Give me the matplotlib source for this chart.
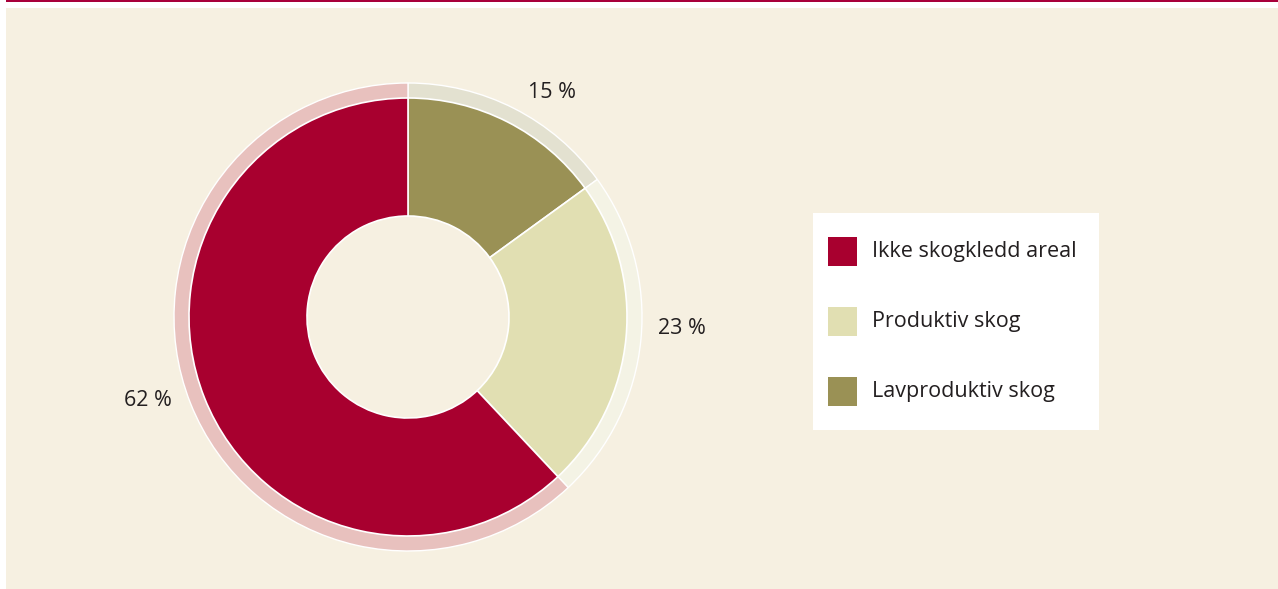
import matplotlib.pyplot as plt
from matplotlib.patches import Rectangle

# data (clockwise from 12 o'clock)
kategorier = ['Lavproduktiv skog', 'Produktiv skog', 'Ikke skogkledd areal']
andel = [15, 23, 62]
farger = ['#9a9155', '#e1dfb2', '#a8002f']
ring_farger = ['#e3e1d0', '#f4f3e5', '#e8c1be']
etiketter = ['15 %', '23 %', '62 %']
etikett_pos = [(552, 92), (682, 329), (148, 400)]  # pixel positions of labels

legend_rekkefolge = ['Ikke skogkledd areal', 'Produktiv skog', 'Lavproduktiv skog']

W, H = 1278, 589
fig = plt.figure(figsize=(W / 100, H / 100), dpi=100)
fig.patch.set_facecolor('white')
ax = fig.add_axes([0, 0, 1, 1])

def py(y):
    # pixel row -> data y
    return H - y

# panel + top line
ax.add_patch(Rectangle((6, 0), W - 6, py(8), facecolor='#f6f0e1', edgecolor='none', zorder=0))
ax.add_patch(Rectangle((6, py(2)), W - 6, 2, facecolor='#a8003a', edgecolor='none', zorder=1))

cx, cy = 408, py(317)
ax.pie(andel, colors=ring_farger, startangle=90, counterclock=False,
       radius=234, center=(cx, cy),
       wedgeprops=dict(width=20, edgecolor='white', linewidth=1))
ax.pie(andel, colors=farger, startangle=90, counterclock=False,
       radius=219, center=(cx, cy),
       wedgeprops=dict(width=118, edgecolor='white', linewidth=1.2))

for txt, (x, y) in zip(etiketter, etikett_pos):
    ax.text(x, py(y), txt, ha='center', va='center', fontsize=15.5,
            color='#231f20', family='Open Sans')

# legend box
ax.add_patch(Rectangle((813, py(430)), 286, 217, facecolor='white', edgecolor='none', zorder=2))
for i, navn in enumerate(legend_rekkefolge):
    farge = farger[kategorier.index(navn)]
    ytop = 237 + i * 70
    ax.add_patch(Rectangle((828, py(ytop + 29)), 29, 29, facecolor=farge,
                           edgecolor='none', zorder=3))
    ax.text(872, py(ytop + 14.5), navn, ha='left', va='center', fontsize=15.5,
            color='#231f20', family='Open Sans', zorder=4)

ax.set_xlim(0, W)
ax.set_ylim(0, H)
ax.set_aspect('equal')
ax.axis('off')

fig.savefig('out.png', dpi=100, facecolor=fig.get_facecolor())
